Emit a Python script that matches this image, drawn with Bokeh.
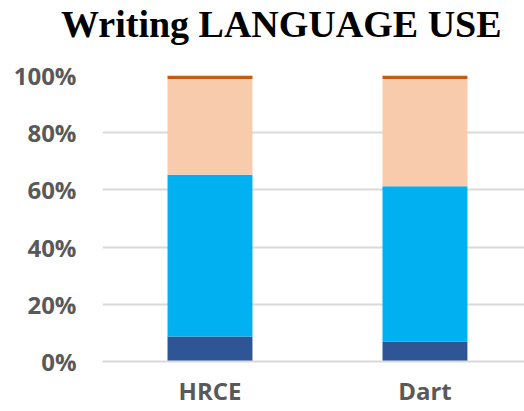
from bokeh.plotting import figure
from bokeh.layouts import column
from bokeh.models import ColumnDataSource, Range1d, FixedTicker, NumeralTickFormatter, Div
from bokeh.embed import file_html
from bokeh.resources import INLINE

title_text = "Writing LANGUAGE USE"
categories = ["HRCE", "Dart"]
series_names = ["Level 1", "Level 2", "Level 3", "Level 4"]
level1 = [0.087, 0.070]
level2 = [0.566, 0.543]
level3 = [0.335, 0.375]
level4 = [0.012, 0.012]
colors = ["#2F5597", "#00B0F0", "#F8CBAD", "#C55A11"]
y_ticks = [0, 0.2, 0.4, 0.6, 0.8, 1.0]

xpos = [i + 0.5 for i in range(len(categories))]
source = ColumnDataSource(dict(x=xpos, **{"Level 1": level1, "Level 2": level2,
                                          "Level 3": level3, "Level 4": level4}))

head = Div(text=('<div style="font-family: \'Liberation Serif\'; font-size: 38px; '
                 'font-weight: bold; color: #000000; line-height: 38px; '
                 'padding-top: 5px; padding-left: 61px; white-space: nowrap; margin: 0;">'
                 + title_text + '</div>'),
           width=524, height=55, margin=(0, 0, 0, 0))

p = figure(width=524, height=356, output_backend="svg", toolbar_location=None,
           x_range=Range1d(0, 1.963), y_range=Range1d(0, 1.0),
           min_border_left=102, min_border_right=0, min_border_bottom=50, min_border_top=20)
p.title = None

p.vbar_stack(series_names, x="x", width=0.395, source=source, color=colors, line_width=0)

p.outline_line_color = None
p.xgrid.grid_line_color = None
p.ygrid.grid_line_color = "#D9D9D9"
p.ygrid.grid_line_width = 2
p.yaxis.ticker = FixedTicker(ticks=y_ticks)
p.yaxis.formatter = NumeralTickFormatter(format="0%")
p.xaxis.ticker = FixedTicker(ticks=xpos)
p.xaxis.major_label_overrides = {x: c for x, c in zip(xpos, categories)}

for ax in (p.xaxis, p.yaxis):
    ax.major_tick_line_color = None
    ax.minor_tick_line_color = None
    ax.major_label_text_font = "Open Sans"
    ax.major_label_text_font_style = "bold"
    ax.major_label_text_font_size = "24px"
    ax.major_label_text_color = "#595959"
p.yaxis.axis_line_color = None
p.yaxis.major_label_standoff = 20
p.xaxis.axis_line_color = "#D9D9D9"
p.xaxis.axis_line_width = 2
p.xaxis.major_label_standoff = 6

layout = column(head, p, spacing=0)
open("out.html", "w").write(file_html(layout, INLINE))
